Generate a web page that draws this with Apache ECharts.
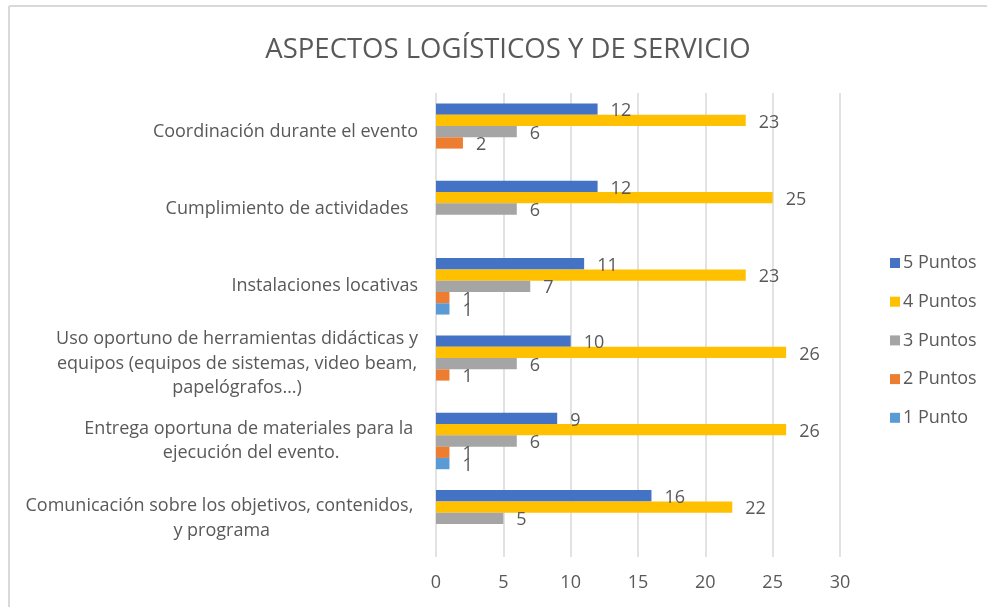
<!DOCTYPE html>
<html>
<head>
<meta charset="utf-8">
<script src="https://cdn.jsdelivr.net/npm/echarts@6/dist/echarts.min.js"></script>
<style>
  html, body { margin: 0; padding: 0; background: #fff; }
  #chart { width: 987px; height: 607px; }
</style>
</head>
<body>
<div id="chart"></div>
<script>
// categorias, de abajo hacia arriba
const categories = [
  'Comunicación sobre los objetivos, contenidos, \ny programa',
  'Entrega oportuna de materiales para la \nejecución del evento.',
  'Uso oportuno de herramientas didácticas y\nequipos (equipos de sistemas, video beam,\npapelógrafos…)',
  'Instalaciones locativas',
  'Cumplimiento de actividades  ',
  'Coordinación durante el evento'
];
const puntos5 = [16, 9, 10, 11, 12, 12];
const puntos4 = [22, 26, 26, 23, 25, 23];
const puntos3 = [5, 6, 6, 7, 6, 6];
const puntos2 = [0, 1, 1, 1, 0, 2];
const puntos1 = [0, 1, 0, 1, 0, 0];
const xTicks = [0, 30, 5]; // min, max, interval

const FONT = 'Open Sans';
const TXT = '#595959';
const FS = 18;

const myChart = echarts.init(document.getElementById('chart'));

function barSeries(name, data, color) {
  return {
    name: name,
    type: 'bar',
    data: data,
    barGap: '0%',
    barCategoryGap: '27%',
    itemStyle: { color: color },
    label: {
      show: true,
      position: 'right',
      distance: 13,
      offset: [0, 2],
      color: TXT,
      fontSize: FS,
      fontFamily: FONT,
      formatter: (p) => (p.value ? p.value : '')
    },
    silent: true
  };
}

const option = {
  animation: false,
  backgroundColor: '#fff',
  title: {
    text: 'ASPECTOS LOGÍSTICOS Y DE SERVICIO',
    left: 503,
    top: 31,
    textAlign: 'center',
    textStyle: { color: TXT, fontSize: 27.5, fontWeight: 'normal', fontFamily: FONT }
  },
  legend: {
    orient: 'vertical',
    left: 885,
    top: 249,
    itemWidth: 10,
    itemHeight: 10,
    itemGap: 20.7,
    icon: 'rect',
    data: ['5 Puntos', '4 Puntos', '3 Puntos', '2 Puntos', '1 Punto'],
    textStyle: { color: TXT, fontSize: FS, fontFamily: FONT, padding: [0, 0, 0, -2] }
  },
  grid: { left: 436, right: 147, top: 93, bottom: 50 },
  xAxis: {
    type: 'value',
    min: xTicks[0],
    max: xTicks[1],
    interval: xTicks[2],
    axisLine: { show: false },
    axisTick: { show: false },
    axisLabel: { color: TXT, fontSize: FS, fontFamily: FONT, margin: 17 },
    splitLine: { lineStyle: { color: '#d9d9d9', width: 1.5 } }
  },
  yAxis: {
    type: 'category',
    data: categories,
    axisLine: { show: false },
    axisTick: { show: false },
    axisLabel: {
      margin: 18,
      color: TXT,
      fontSize: FS,
      fontFamily: FONT,
      lineHeight: 24.5,
      formatter: (v) => v.split('\n').map((l) => '{c|' + l + '}').join('\n'),
      rich: {
        c: { align: 'center', color: TXT, fontSize: FS, fontFamily: FONT, lineHeight: 24.5 }
      }
    }
  },
  series: [
    barSeries('5 Puntos', puntos5, '#4472C4'),
    barSeries('4 Puntos', puntos4, '#FFC000'),
    barSeries('3 Puntos', puntos3, '#A5A5A5'),
    barSeries('2 Puntos', puntos2, '#ED7D31'),
    barSeries('1 Punto', puntos1, '#5B9BD5')
  ],
  graphic: [
    { type: 'line', shape: { x1: 9, y1: 6, x2: 987, y2: 6 }, style: { stroke: '#d9d9d9', lineWidth: 2 }, silent: true },
    { type: 'line', shape: { x1: 9, y1: 6, x2: 9, y2: 607 }, style: { stroke: '#d9d9d9', lineWidth: 2 }, silent: true }
  ]
};

myChart.setOption(option);
</script>
</body>
</html>
